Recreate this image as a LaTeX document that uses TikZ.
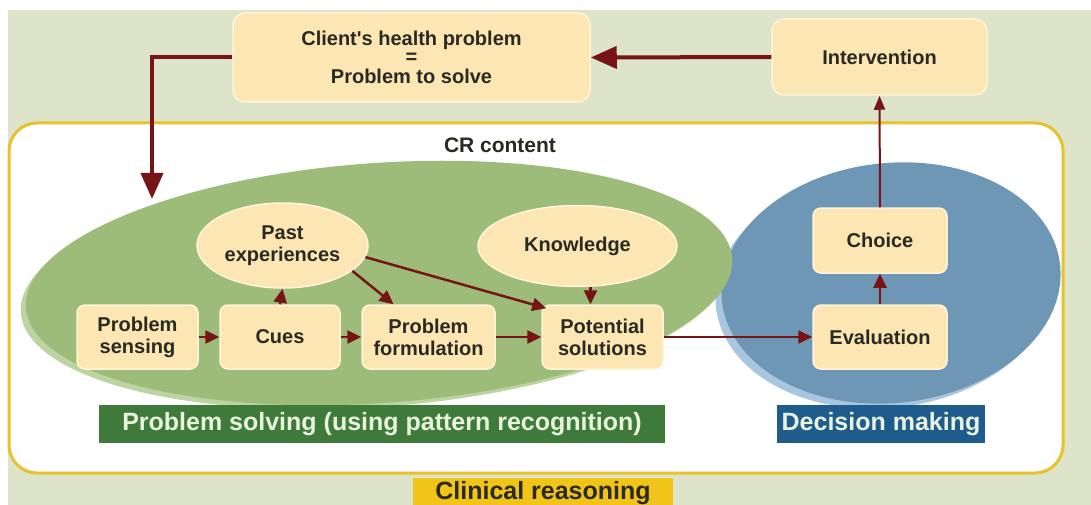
\documentclass[tikz,border=0pt]{standalone}
\usepackage{fontspec}
\setmainfont{Liberation Sans}
\usetikzlibrary{arrows.meta,shapes.geometric,calc}
\definecolor{bgc}{HTML}{DDE4CA}
\definecolor{nodefill}{HTML}{FBE6B4}
\definecolor{nodeborder}{HTML}{FFF3D8}
\definecolor{arrowc}{HTML}{761416}
\definecolor{textc}{HTML}{2A2A22}
\definecolor{greenell}{HTML}{9EBC79}
\definecolor{greenshadow}{HTML}{BDD4A2}
\definecolor{blueell}{HTML}{6E97B6}
\definecolor{blueshadow}{HTML}{A8C6E0}
\definecolor{greenlab}{HTML}{3E7B3A}
\definecolor{bluelab}{HTML}{1D5C8C}
\definecolor{yellowlab}{HTML}{F0C419}
\definecolor{frame}{HTML}{E8C12B}
\definecolor{labtext}{HTML}{EAF2DE}
\tikzset{
  box/.style={rectangle, rounded corners=8pt, fill=nodefill, draw=nodeborder, line width=1.5pt,
    font=\bfseries\fontsize{20}{22}\selectfont, align=center, text=textc, inner sep=0pt},
  oval/.style={ellipse, fill=nodefill, draw=nodeborder, line width=1.5pt,
    font=\bfseries\fontsize{20}{22}\selectfont, align=center, text=textc, inner sep=0pt},
  bigarrow/.style={draw=arrowc, line width=4pt, -{Triangle[length=26pt,width=22pt]}},
  smallarrow/.style={draw=arrowc, line width=2.5pt, -{Triangle[length=14pt,width=13pt]}},
  thinarrow/.style={draw=arrowc, line width=2pt, -{Triangle[length=14pt,width=11pt]}},
  lab/.style={rectangle, inner sep=0pt, font=\bfseries\fontsize{25}{27}\selectfont}
}
\begin{document}
\begin{tikzpicture}[x=1pt,y=-1pt]
\useasboundingbox (0,0) rectangle (1091,505);
\fill[white] (0,0) rectangle (1091,505);
\fill[bgc] (8,10) rectangle (1091,505);
% big frame
\draw[frame, line width=3pt, fill=white, rounded corners=28pt] (9,123) rectangle (1063,473);
\node[font=\bfseries\fontsize{21}{23}\selectfont, text=textc] (crc) at (500,145) {CR content};
% ellipses
\fill[blueshadow, rotate around={6:(885,289)}] (885,289) ellipse [x radius=170, y radius=119];
\fill[blueell, rotate around={6:(891,283)}] (891,283) ellipse [x radius=170, y radius=120];
\fill[greenshadow, rotate around={4:(374,288)}] (374,288) ellipse [x radius=354, y radius=119];
\fill[greenell, rotate around={4:(379,283)}] (379,283) ellipse [x radius=354, y radius=120];
% labels
\node[lab, fill=greenlab, text=labtext, minimum width=566pt, minimum height=38pt] (pslab) at (382,424) {Problem solving (using pattern recognition)};
\node[lab, fill=bluelab, text=labtext, minimum width=208pt, minimum height=38pt] (dmlab) at (881,424) {Decision making};
\node[lab, fill=yellowlab, text=textc, minimum width=260pt, minimum height=30pt, anchor=north] (crlab) at (543,478) {Clinical reasoning};
% top nodes
\node[box, minimum width=357pt, minimum height=89pt, rounded corners=12pt] (client) at (411.5,57.5) {Client\textquotesingle s health problem\\[-4pt]=\\[-2pt]Problem to solve};
\node[box, minimum width=215pt, minimum height=76pt, rounded corners=12pt] (interv) at (879.5,57) {Intervention};
% inner nodes
\node[box, minimum width=121pt, minimum height=64pt] (sens) at (137.5,337) {Problem\\sensing};
\node[box, minimum width=120pt, minimum height=64pt] (cues) at (280,337) {Cues};
\node[box, minimum width=133pt, minimum height=64pt] (form) at (428.5,337) {Problem\\formulation};
\node[box, minimum width=121pt, minimum height=64pt] (pot) at (602.5,337) {Potential\\solutions};
\node[box, minimum width=134pt, minimum height=64pt] (eval) at (880,337) {Evaluation};
\node[box, minimum width=134pt, minimum height=65pt] (choice) at (880,240.5) {Choice};
\node[oval, minimum width=171pt, minimum height=85pt] (past) at (282.5,245.5) {Past\\experiences};
\node[oval, minimum width=199pt, minimum height=81pt] (know) at (577.5,246) {Knowledge};
% connectors
\coordinate (entry) at (152,199);
\draw[bigarrow] (interv.west) -- (client.east);
\draw[bigarrow] (client.west) -| (entry);
\draw[smallarrow] (sens.east) -- (cues.west);
\draw[smallarrow] (cues.east) -- (form.west);
\draw[smallarrow] (form.east) -- (pot.west);
\draw[smallarrow] (cues.north) -- (past.south);
\draw[smallarrow] (past.-20) -- ($(form.north)+(-35,0)$);
\draw[smallarrow] (past.-8) -- ($(pot.north west)+(5,4)$);
\coordinate (kp) at ($(pot.north)+(-12,0)$);
\draw[smallarrow] (know.south -| kp) -- (kp);
\draw[smallarrow, line width=2pt] (pot.east) -- (eval.west);
\draw[smallarrow] (eval.north) -- (choice.south);
\draw[thinarrow] (choice.north) -- (interv.south);
\end{tikzpicture}
\end{document}
